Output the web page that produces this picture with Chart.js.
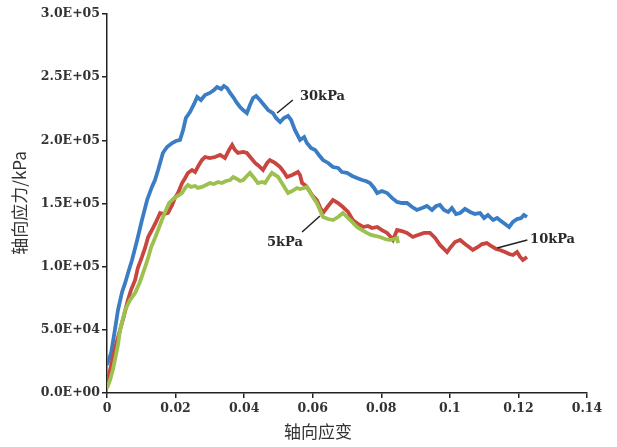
<!DOCTYPE html>
<html>
<head>
<meta charset="utf-8">
<script src="https://cdn.jsdelivr.net/npm/chart.js@4.4.1/dist/chart.umd.min.js"></script>
<style>
  body { margin: 0; background: #fff; }
  #wrap { width: 617px; height: 447px; }
</style>
</head>
<body>
<div id="wrap"><canvas id="chart" width="617" height="447"></canvas></div>
<script>
//-----------------------------------------
// DATA (strain, stress in kPa)
//-----------------------------------------
const xTickLabels = ["0", "0.02", "0.04", "0.06", "0.08", "0.1", "0.12", "0.14"];
const yTickLabels = ["0.0E+00", "5.0E+04", "1.0E+05", "1.5E+05", "2.0E+05", "2.5E+05", "3.0E+05"];
const seriesNames = ["30kPa", "10kPa", "5kPa"];

const strain30 = [0, 0.0012, 0.0023, 0.0032, 0.0044, 0.0053, 0.0064, 0.0073, 0.0088, 0.0102,
  0.0117, 0.0131, 0.0140, 0.0149, 0.0163, 0.0175, 0.0190, 0.0201, 0.0213, 0.0222,
  0.0230, 0.0242, 0.0254, 0.0263, 0.0274, 0.0286, 0.0300, 0.0312, 0.0321, 0.0333,
  0.0341, 0.0350, 0.0359, 0.0368, 0.0379, 0.0388, 0.0397, 0.0408, 0.0417, 0.0426,
  0.0435, 0.0446, 0.0458, 0.0470, 0.0484, 0.0493, 0.0505, 0.0516, 0.0528, 0.0537,
  0.0548, 0.0563, 0.0575, 0.0583, 0.0595, 0.0607, 0.0618, 0.0630, 0.0645, 0.0659,
  0.0674, 0.0685, 0.0700, 0.0715, 0.0729, 0.0744, 0.0755, 0.0767, 0.0779, 0.0788,
  0.0802, 0.0817, 0.0831, 0.0846, 0.0860, 0.0875, 0.0890, 0.0904, 0.0919, 0.0933,
  0.0948, 0.0960, 0.0971, 0.0983, 0.0995, 0.1006, 0.1018, 0.1030, 0.1044, 0.1059,
  0.1073, 0.1088, 0.1100, 0.1111, 0.1126, 0.1138, 0.1149, 0.1161, 0.1173, 0.1184,
  0.1196, 0.1208, 0.1216, 0.1225];
const stress30 = [22200, 31700, 49900, 65700, 80000, 87100, 97400, 105300, 121100, 136900,
  152800, 163100, 168600, 176500, 190000, 194700, 197900, 199500, 200300, 208200,
  217700, 222400, 228800, 234300, 231900, 235900, 237500, 239900, 242200, 240600,
  243000, 241400, 237500, 234300, 229600, 226400, 224000, 221600, 228000, 233500,
  235100, 231900, 228000, 224000, 221600, 217700, 214500, 217700, 219300, 216100,
  208200, 200300, 202600, 197900, 193900, 192400, 188400, 184400, 182100, 178900,
  178100, 174900, 174200, 171800, 170200, 168600, 167800, 166200, 162300, 158300,
  159900, 158300, 154400, 151200, 150400, 150400, 147200, 144900, 146400, 148000,
  144900, 148000, 148800, 144900, 143300, 146400, 141700, 142500, 145700, 143300,
  141700, 142500, 138500, 140900, 136900, 138500, 136200, 133800, 131400, 135400,
  137700, 138500, 140900, 139300];

const strain10 = [0, 0.0009, 0.0017, 0.0026, 0.0038, 0.0050, 0.0061, 0.0070, 0.0082, 0.0090,
  0.0102, 0.0111, 0.0120, 0.0131, 0.0143, 0.0155, 0.0166, 0.0178, 0.0190, 0.0198,
  0.0207, 0.0219, 0.0228, 0.0236, 0.0248, 0.0257, 0.0268, 0.0277, 0.0286, 0.0300,
  0.0315, 0.0330, 0.0344, 0.0356, 0.0365, 0.0373, 0.0382, 0.0397, 0.0408, 0.0420,
  0.0432, 0.0443, 0.0455, 0.0467, 0.0475, 0.0490, 0.0505, 0.0516, 0.0525, 0.0540,
  0.0557, 0.0563, 0.0569, 0.0577, 0.0583, 0.0598, 0.0612, 0.0621, 0.0630, 0.0645,
  0.0659, 0.0674, 0.0688, 0.0703, 0.0717, 0.0732, 0.0747, 0.0761, 0.0773, 0.0788,
  0.0802, 0.0817, 0.0825, 0.0834, 0.0846, 0.0860, 0.0875, 0.0892, 0.0907, 0.0925,
  0.0942, 0.0957, 0.0971, 0.0992, 0.1003, 0.1015, 0.1030, 0.1044, 0.1056, 0.1067,
  0.1082, 0.1094, 0.1108, 0.1120, 0.1135, 0.1146, 0.1161, 0.1173, 0.1184, 0.1196,
  0.1205, 0.1213, 0.1225];
const stress10 = [8700, 18200, 27700, 38000, 49900, 61700, 73600, 81500, 89500, 99000,
  107700, 114800, 123500, 129000, 135400, 142500, 141700, 142500, 148800, 154400,
  158300, 166200, 170200, 174200, 176500, 174900, 180500, 184400, 186800, 186000,
  186800, 188400, 186000, 192400, 196300, 192400, 190000, 190800, 190000, 186000,
  182100, 179700, 176500, 182100, 184400, 182100, 178900, 174900, 171000, 172600,
  174900, 172600, 166200, 164700, 163100, 156700, 152800, 147200, 142500, 148000,
  152800, 150400, 147200, 143300, 136900, 133800, 131400, 132200, 130600, 131400,
  129000, 126700, 124300, 121100, 129000, 128200, 126700, 123500, 125100, 126700,
  126700, 122700, 117200, 111600, 115600, 119500, 121100, 117900, 115600, 113200,
  115600, 117900, 118700, 116400, 114000, 113200, 111600, 110000, 109200, 111600,
  107700, 105300, 107700];

const strain5 = [0, 0.0009, 0.0017, 0.0023, 0.0032, 0.0038, 0.0047, 0.0053, 0.0067, 0.0082,
  0.0096, 0.0111, 0.0120, 0.0128, 0.0140, 0.0149, 0.0160, 0.0172, 0.0181, 0.0190,
  0.0201, 0.0210, 0.0219, 0.0228, 0.0236, 0.0245, 0.0257, 0.0265, 0.0277, 0.0289,
  0.0300, 0.0312, 0.0324, 0.0335, 0.0347, 0.0359, 0.0368, 0.0379, 0.0388, 0.0397,
  0.0408, 0.0417, 0.0429, 0.0440, 0.0452, 0.0461, 0.0470, 0.0481, 0.0490, 0.0499,
  0.0510, 0.0519, 0.0528, 0.0540, 0.0554, 0.0563, 0.0575, 0.0583, 0.0595, 0.0604,
  0.0612, 0.0621, 0.0630, 0.0645, 0.0659, 0.0674, 0.0688, 0.0700, 0.0715, 0.0729,
  0.0744, 0.0758, 0.0770, 0.0782, 0.0796, 0.0811, 0.0825, 0.0837, 0.0846, 0.0849];
const stress5 = [4000, 10300, 18200, 26100, 38000, 49900, 59400, 65700, 73600, 79200,
  87900, 99700, 106900, 114800, 122700, 129000, 136900, 144900, 150400, 152800,
  155200, 156700, 158300, 162300, 164700, 163100, 163900, 162300, 163100, 164700,
  166200, 165400, 167000, 166200, 167800, 168600, 171000, 169400, 167800, 168600,
  171800, 174200, 170200, 166200, 167000, 166200, 170200, 174200, 172600, 171000,
  166200, 162300, 158300, 159900, 162300, 161500, 162300, 163100, 157500, 153600,
  150400, 144900, 139300, 137700, 136900, 139300, 142500, 139300, 135400, 131400,
  129000, 126700, 125100, 124300, 123500, 121900, 121100, 121900, 122700, 118700];

// label anchors: [lineStartX, lineStartY, lineEndX, lineEndY, textX, textY]
const labelAnchors = [
  [0.0496, 221600, 0.0542, 231900, 0.0563, 234300],
  [0.1138, 114800, 0.1226, 121100, 0.1234, 121100],
  [0.0621, 140100, 0.0569, 127400, 0.0519, 118700]
];

//-----------------------------------------
// BUILD DATASETS
//-----------------------------------------
function zip(xs, ys) {
  return xs.map((x, i) => ({ x: x, y: ys[i] }));
}

const colors = ["#3b7dc5", "#c8463f", "#9cc14f"];
const datasets = [
  { label: seriesNames[0], data: zip(strain30, stress30), order: 3 },
  { label: seriesNames[1], data: zip(strain10, stress10), order: 2 },
  { label: seriesNames[2], data: zip(strain5, stress5), order: 1 }
].map((d, i) => Object.assign(d, {
  showLine: true,
  borderColor: colors[i],
  borderWidth: 3.8,
  pointRadius: 0,
  tension: 0,
  fill: false
}));

//-----------------------------------------
// PLUGIN: background, axis titles, curve labels
//-----------------------------------------
const decorPlugin = {
  id: "decor",
  beforeDraw(chart) {
    const c = chart.ctx;
    c.save();
    c.fillStyle = "#ffffff";
    c.fillRect(0, 0, chart.width, chart.height);
    c.restore();
  },
  afterDraw(chart) {
    const c = chart.ctx;
    const xs = chart.scales.x;
    const ys = chart.scales.y;
    c.save();

    // curve labels with leader lines
    c.strokeStyle = "#222";
    c.lineWidth = 1.5;
    c.fillStyle = "#2a2a2a";
    c.font = "bold 13px 'DejaVu Serif'";
    c.textBaseline = "middle";
    labelAnchors.forEach((a, i) => {
      c.beginPath();
      c.moveTo(xs.getPixelForValue(a[0]), ys.getPixelForValue(a[1]));
      c.lineTo(xs.getPixelForValue(a[2]), ys.getPixelForValue(a[3]));
      c.stroke();
      c.textAlign = i === 2 ? "center" : "left";
      c.fillText(seriesNames[i], xs.getPixelForValue(a[4]), ys.getPixelForValue(a[5]));
    });

    // axis titles
    c.fillStyle = "#333";
    c.font = "17px 'Noto Sans CJK SC'";
    c.textAlign = "center";
    c.textBaseline = "middle";
    c.fillText("轴向应变", 318, 432);

    c.translate(20, 203);
    c.rotate(-Math.PI / 2);
    c.fillText("轴向应力/kPa", 0, 0);
    c.restore();
  }
};

//-----------------------------------------
// CHART
//-----------------------------------------
const tickFont = { family: "'DejaVu Serif'", size: 12.5, weight: "bold" };

new Chart(document.getElementById("chart"), {
  type: "scatter",
  data: { datasets },
  options: {
    responsive: false,
    animation: false,
    layout: { padding: { top: 14, right: 30, left: 0, bottom: 0 } },
    plugins: {
      legend: { display: false },
      tooltip: { enabled: false }
    },
    scales: {
      x: {
        type: "linear",
        min: 0,
        max: 0.14,
        afterFit: s => { s.height = 54; },
        ticks: {
          stepSize: 0.02,
          color: "#333",
          font: tickFont,
          padding: 3,
          maxRotation: 0,
          callback: (v, i) => xTickLabels[i]
        },
        grid: { drawOnChartArea: false, tickLength: 5, color: "#222", lineWidth: 1.5 },
        border: { color: "#222", width: 1.5 }
      },
      y: {
        type: "linear",
        min: 0,
        max: 300000,
        afterFit: s => { s.width = 107; },
        ticks: {
          stepSize: 50000,
          color: "#333",
          font: tickFont,
          padding: 2,
          callback: (v, i) => yTickLabels[i]
        },
        grid: { drawOnChartArea: false, tickLength: 5, color: "#222", lineWidth: 1.5 },
        border: { color: "#222", width: 1.5 }
      }
    }
  },
  plugins: [decorPlugin]
});
</script>
</body>
</html>
